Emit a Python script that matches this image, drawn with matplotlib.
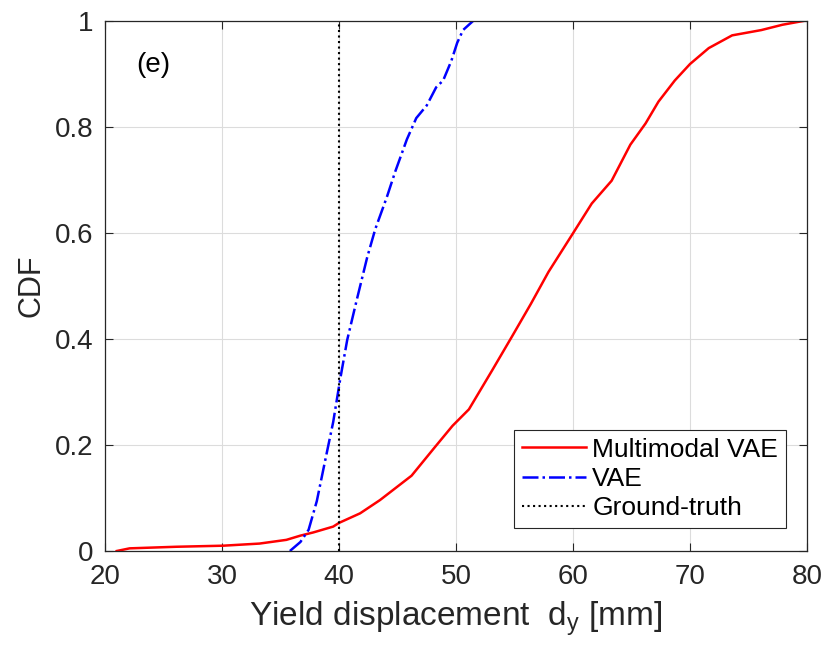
import matplotlib
matplotlib.use("Agg")
import matplotlib.pyplot as plt
from matplotlib.ticker import FuncFormatter

plt.rcParams['font.family'] = ['Liberation Sans', 'DejaVu Sans']
plt.rcParams['mathtext.fontset'] = 'custom'
plt.rcParams['mathtext.rm'] = 'Liberation Sans'

# Multimodal VAE CDF
mm_x = [21.0, 22.1, 26.1, 30.1, 33.2, 35.5, 36.7, 37.8, 39.5, 40.0, 41.8, 43.5,
        46.2, 48.2, 49.7, 51.1, 53.1, 54.8, 56.4, 57.9, 60.0, 61.6, 63.3, 64.9,
        66.2, 67.3, 68.7, 70.0, 71.6, 73.6, 76.1, 77.9, 79.9]
mm_y = [0.0, 0.005, 0.008, 0.010, 0.014, 0.021, 0.029, 0.035, 0.046, 0.053, 0.071, 0.096,
        0.142, 0.196, 0.236, 0.267, 0.341, 0.405, 0.466, 0.526, 0.599, 0.655, 0.698, 0.766,
        0.806, 0.847, 0.887, 0.918, 0.948, 0.972, 0.982, 0.992, 1.0]

# VAE CDF
vae_x = [35.8, 36.7, 37.4, 38.1, 38.8, 39.5, 40.1, 40.7, 41.5, 42.4, 43.1, 44.1,
         44.8, 45.8, 46.6, 47.5, 48.3, 48.9, 49.6, 50.1, 50.6, 51.5]
vae_y = [0.0, 0.017, 0.040, 0.094, 0.169, 0.243, 0.324, 0.398, 0.472, 0.553, 0.607, 0.668,
         0.715, 0.776, 0.816, 0.840, 0.874, 0.887, 0.924, 0.958, 0.982, 1.0]

ground_truth = 40

fig = plt.figure(figsize=(8.29, 6.53), dpi=100)
ax = fig.add_axes([0.1267, 0.1562, 0.8468, 0.8124])

ax.plot(mm_x, mm_y, color='red', lw=1.8, label='Multimodal VAE')
ax.plot(vae_x, vae_y, color='blue', lw=1.8, ls='-.', label='VAE')
ax.axvline(ground_truth, color='black', lw=1.5, ls=':', label='Ground-truth')

ax.set_xlim(20, 80)
ax.set_ylim(0, 1)
ax.set_xticks([20, 30, 40, 50, 60, 70, 80])
ax.set_yticks([0, 0.2, 0.4, 0.6, 0.8, 1])
ax.yaxis.set_major_formatter(FuncFormatter(lambda v, p: '%g' % v))
ax.grid(True, color='#dcdcdc', lw=0.8)
ax.set_axisbelow(True)
ax.tick_params(direction='in', length=6, width=0.8, colors='#262626',
               labelsize=20, top=True, right=True, labelcolor='#262626')
ax.tick_params(axis='x', pad=9)
ax.tick_params(axis='y', pad=8.5)
for s in ax.spines.values():
    s.set_color('#262626')
    s.set_linewidth(0.9)

ax.set_xlabel('Yield displacement  d$_\\mathregular{y}$ [mm]', fontsize=24,
              color='#262626', labelpad=7)
ax.set_ylabel('CDF', fontsize=22, color='#262626', labelpad=6)
ax.text(0.044, 0.916, '(e)', transform=ax.transAxes, fontsize=20, va='center')

leg = ax.legend(loc='lower right', bbox_to_anchor=(0.97, 0.043), fontsize=19,
                fancybox=False, framealpha=1, edgecolor='#262626',
                handlelength=2.4, borderpad=0.3, labelspacing=0.2, handletextpad=0.25,
                borderaxespad=0)
leg.get_frame().set_linewidth(0.8)

fig.savefig('out.png', dpi=100)
